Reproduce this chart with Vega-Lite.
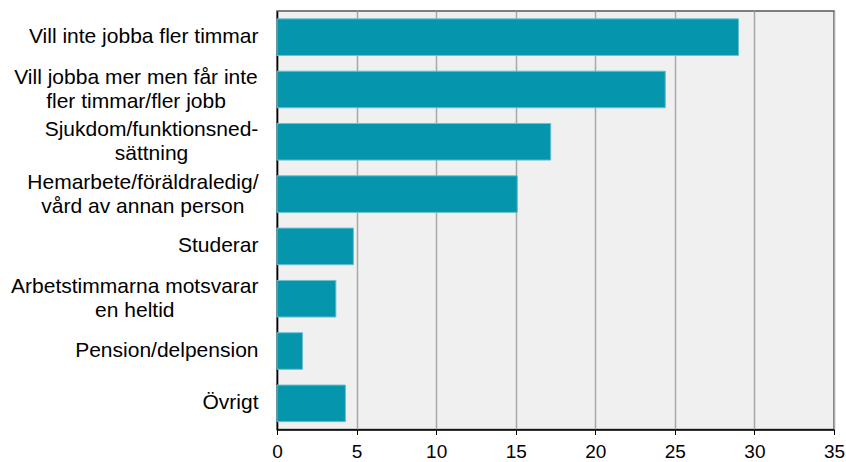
{
  "$schema": "https://vega.github.io/schema/vega-lite/v6.json",
  "autosize": "none",
  "width": 557,
  "height": 418.5,
  "padding": {"left": 277, "top": 11, "right": 12, "bottom": 32},
  "background": "white",
  "config": {
    "font": "Liberation Sans",
    "view": {"fill": "#f0f0f0", "stroke": "#555555", "strokeWidth": 1.5}
  },
  "data": {
    "values": [
      {"orsak": "Vill inte jobba fler timmar", "andel": 29.0},
      {"orsak": "Vill jobba mer men får inte|fler timmar/fler jobb", "andel": 24.4},
      {"orsak": "Sjukdom/funktionsned-|sättning", "andel": 17.2},
      {"orsak": "Hemarbete/föräldraledig/|vård av annan person", "andel": 15.1},
      {"orsak": "Studerar", "andel": 4.8},
      {"orsak": "Arbetstimmarna motsvarar|en heltid", "andel": 3.7},
      {"orsak": "Pension/delpension", "andel": 1.6},
      {"orsak": "Övrigt", "andel": 4.3}
    ]
  },
  "mark": {"type": "bar", "color": "#0595ad", "stroke": "#6cc0cf", "strokeWidth": 1},
  "encoding": {
    "y": {
      "field": "orsak",
      "type": "nominal",
      "sort": null,
      "scale": {"paddingInner": 0.3, "paddingOuter": 0.15},
      "axis": {
        "title": null,
        "labelExpr": "split(datum.label, '|')",
        "labelFontSize": 21,
        "labelColor": "black",
        "labelLineHeight": 24,
        "labelAlign": {"condition": {"test": "indexof(datum.value, '|') >= 0", "value": "center"}, "value": "right"},
        "labelOffset": {"condition": {"test": "indexof(datum.value, '|') >= 0", "value": -11.5}, "value": 0},
        "labelPadding": {"condition": [
          {"test": "indexof(datum.value, 'Vill jobba') == 0", "value": 141.5},
          {"test": "indexof(datum.value, 'Sjukdom') == 0", "value": 126},
          {"test": "indexof(datum.value, 'Hemarbete') == 0", "value": 134.6},
          {"test": "indexof(datum.value, 'Arbetstimmarna') == 0", "value": 142.7}
        ], "value": 19},
        "ticks": false,
        "tickSize": 0,
        "domain": true,
        "domainColor": "black",
        "domainWidth": 1.5,
        "labelLimit": 400
      }
    },
    "x": {
      "field": "andel",
      "type": "quantitative",
      "scale": {"domain": [0, 35], "nice": false},
      "axis": {
        "title": null,
        "values": [0, 5, 10, 15, 20, 25, 30, 35],
        "labelFontSize": 19,
        "labelColor": "black",
        "labelPadding": 8,
        "tickSize": 5,
        "tickColor": "black",
        "domainColor": "black",
        "domainWidth": 1.5,
        "grid": true,
        "gridColor": "#a8a8a8",
        "gridWidth": 1.5,
        "labelFlush": false
      }
    }
  }
}
